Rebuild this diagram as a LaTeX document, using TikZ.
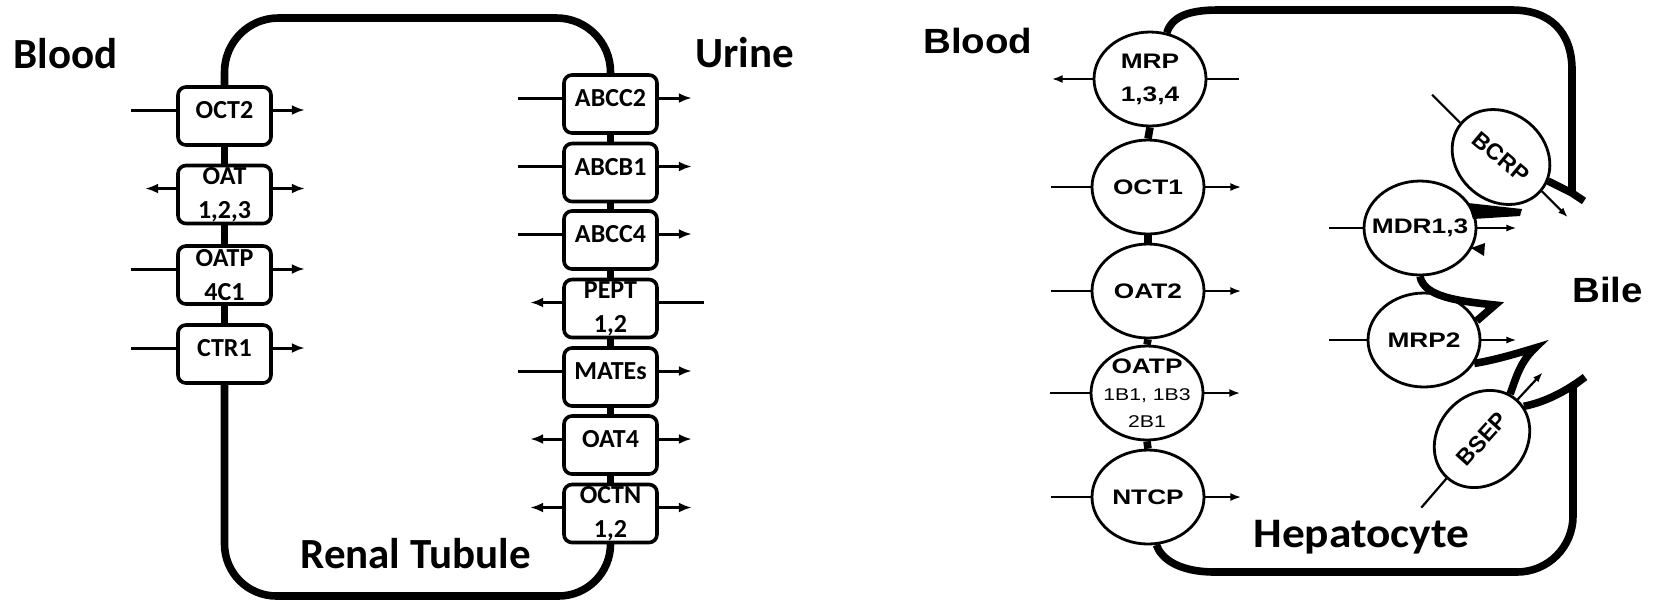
\documentclass[tikz,border=0pt]{standalone}
\usepackage{fontspec}
\setmainfont{Carlito}
\newfontfamily\widecal[FakeStretch=1.08]{Carlito}
\newfontfamily\bigsans[FakeStretch=1.1]{Liberation Sans}
\newfontfamily\widesans[FakeStretch=1.25]{Liberation Sans}
\newfontfamily\plainsans{Liberation Sans}
\usetikzlibrary{arrows.meta,shapes.geometric}
\newcommand{\subline}[1]{{\mdseries\fontsize{8.5}{10}\selectfont #1}}

\begin{document}
\begin{tikzpicture}[x=0.5pt,y=-0.5pt,>={Latex[length=6.5pt,width=5pt]},
	wall/.style={line width=3.8pt},
	tbox/.style={draw,fill=white,line width=1.8pt,rounded corners=4pt,minimum width=46.5pt,minimum height=29pt,inner sep=0pt,align=center,font=\bfseries\fontsize{13}{17}\selectfont},
	oneline/.style={text depth=6pt},
	flux/.style={line width=1.5pt},
	carrier/.style={ellipse,draw,line width=1.4pt,minimum width=56pt,minimum height=47pt,inner xsep=-6pt,inner ysep=-2pt,align=center,font=\widesans\bfseries\fontsize{10.5}{16.5}\selectfont},
	tilted/.style={carrier,minimum width=52pt,minimum height=44pt,font=\plainsans\bfseries\fontsize{11.5}{14}\selectfont},
	hflux/.style={line width=1.3pt,>={Latex[length=5.5pt,width=4pt]}},
	cflux/.style={line width=1.1pt,>={Latex[length=5pt,width=3.6pt]}},
	bigtext/.style={anchor=base west,inner sep=0pt}]
	\useasboundingbox (0,0) rectangle (1658,602);
	%Tubulo renale
	\node[tbox,oneline] (oct2) at (224.5,116) {OCT2};
	\node[tbox] (oat) at (224.5,194.5) {OAT\\1,2,3};
	\node[tbox] (oatp) at (224.5,275) {OATP\\4C1};
	\node[tbox,oneline] (ctr1) at (224.5,354) {CTR1};
	\node[tbox,oneline] (abcc2) at (610.5,104) {ABCC2};
	\node[tbox,oneline] (abcb1) at (610.5,172.5) {ABCB1};
	\node[tbox,oneline] (abcc4) at (610.5,240) {ABCC4};
	\node[tbox] (pept) at (610.5,308.5) {PEPT\\1,2};
	\node[tbox,oneline] (mates) at (610.5,377) {MATEs};
	\node[tbox,oneline] (oat4) at (610.5,445) {OAT4};
	\node[tbox] (octn) at (610.5,513.5) {OCTN\\1,2};
	%Membrana
	\draw[wall,rounded corners=27pt] (oct2.north) -- (224.5,18) -- (610.5,18) -- (abcc2.north);
	\foreach \a/\b in {oct2/oat,oat/oatp,oatp/ctr1,abcc2/abcb1,abcb1/abcc4,abcc4/pept,pept/mates,mates/oat4,oat4/octn}
	{\draw[wall] (\a.south) -- (\b.north);}
	\draw[wall,rounded corners=26pt] (ctr1.south) -- (224.5,596) -- (610.5,596) -- (octn.south);
	%Flussi
	\draw[flux] ([yshift=3pt]oct2.west) -- ++(-45,0);
	\draw[flux,->] ([yshift=3pt]oct2.east) -- ++(32,0);
	\draw[flux,->] ([yshift=3pt]oat.west) -- ++(-31,0);
	\draw[flux,->] ([yshift=3pt]oat.east) -- ++(32,0);
	\draw[flux] ([yshift=3pt]oatp.west) -- ++(-45,0);
	\draw[flux,->] ([yshift=3pt]oatp.east) -- ++(32,0);
	\draw[flux] ([yshift=3pt]ctr1.west) -- ++(-45,0);
	\draw[flux,->] ([yshift=3pt]ctr1.east) -- ++(32,0);
	\draw[flux] ([yshift=3pt]abcc2.west) -- ++(-44,0);
	\draw[flux,->] ([yshift=3pt]abcc2.east) -- ++(33,0);
	\draw[flux] ([yshift=3pt]abcb1.west) -- ++(-44,0);
	\draw[flux,->] ([yshift=3pt]abcb1.east) -- ++(33,0);
	\draw[flux] ([yshift=3pt]abcc4.west) -- ++(-44,0);
	\draw[flux,->] ([yshift=3pt]abcc4.east) -- ++(33,0);
	\draw[flux,->] ([yshift=3pt]pept.west) -- ++(-32,0);
	\draw[flux] ([yshift=3pt]pept.east) -- ++(45,0);
	\draw[flux] ([yshift=3pt]mates.west) -- ++(-44,0);
	\draw[flux,->] ([yshift=3pt]mates.east) -- ++(33,0);
	\draw[flux,->] ([yshift=3pt]oat4.west) -- ++(-32,0);
	\draw[flux,->] ([yshift=3pt]oat4.east) -- ++(33,0);
	\draw[flux,->] ([yshift=3pt]octn.west) -- ++(-32,0);
	\draw[flux,->] ([yshift=3pt]octn.east) -- ++(33,0);
	%Nomi
	\node[bigtext,font=\bfseries\fontsize{21.5}{24}\selectfont] (bloodk) at (13,68) {Blood};
	\node[bigtext,font=\bfseries\fontsize{21.5}{24}\selectfont] (urine) at (695,67) {Urine};
	\node[bigtext,font=\bfseries\fontsize{21.5}{24}\selectfont] (renal) at (300,568) {Renal Tubule};
	%Epatocita
	\node[carrier] (mrp) at (1150,79) {MRP\\1,3,4};
	\node[carrier] (oct1) at (1148,187) {OCT1};
	\node[carrier] (oat2) at (1148,291) {OAT2};
	\node[carrier] (oatp1) at (1147,393) {OATP\\[-3pt]\subline{1B1, 1B3}\\[-3pt]\subline{2B1}};
	\node[carrier] (ntcp) at (1148,497) {NTCP};
	\node[carrier] (mdr) at (1420,228) {MDR1,3};
	\node[carrier] (mrp2) at (1424,340) {MRP2};
	\node[tilted,rotate=-40] (bcrp) at (1501,157) {BCRP};
	\node[tilted,rotate=48] (bsep) at (1482,439) {BSEP};
	%Membrana
	\foreach \a/\b in {mrp/oct1,oct1/oat2,oat2/oatp1,oatp1/ntcp}
	{\draw[wall] (\a.south) -- (\b.north);}
	\draw[wall] (mrp.70) .. controls (1172,16) and (1190,10) .. (1218,10) -- (1512,10) .. controls (1550,10) and (1572,32) .. (1572,70) -- (1572,192);
	\draw[wall,line join=miter] (1548,181) -- (1572,193) -- (1584,201);
	\fill (1468,203) -- (1522,209) -- (1520,216) -- (1473,219) -- cycle;
	\fill (1471,248) -- (1485,243) -- (1484,256) -- cycle;
	\draw[wall] (mdr.south) .. controls (1424,297) and (1458,301) .. (1495,305) -- (mrp2.20);
	\draw[wall] (mrp2.-25) .. controls (1495,360) and (1515,354) .. (1535,348) .. controls (1520,362) and (1516,378) .. (bsep.10);
	\draw[wall] (bsep.-10) .. controls (1545,402) and (1565,392) .. (1585,377) -- (1573,386);
	\draw[wall,rounded corners=28pt] (1573,386) -- (1573,572) -- (1215,572);
	\draw[wall] (1215,572) .. controls (1175,572) and (1160,556) .. (ntcp.-80);
	%Flussi
	\draw[hflux,->] (mrp.west) -- ++(-41,0);
	\draw[hflux] (mrp.east) -- ++(32,0);
	\foreach \n in {oct1,oat2,oatp1,ntcp}
	{\draw[hflux] (\n.west) -- ++(-40,0);
	 \draw[hflux,->] (\n.east) -- ++(36,0);}
	\draw[cflux] (mdr.west) -- ++(-34,0);
	\draw[cflux,->] (mdr.east) -- ++(39,0);
	\draw[cflux] (mrp2.west) -- ++(-38,0);
	\draw[cflux,->] (mrp2.east) -- ++(35,0);
	\draw[cflux] (bcrp.west) -- ++(-28,-28);
	\draw[cflux,->] (bcrp.east) -- ++(26,26);
	\draw[cflux] (bsep.west) -- ++(-25,29);
	\draw[cflux,->] (bsep.east) -- ++(25,-27);
	%Nomi
	\node[bigtext,font=\bigsans\bfseries\fontsize{17.5}{20}\selectfont] (bloodh) at (923,53) {Blood};
	\node[bigtext,font=\bigsans\bfseries\fontsize{17.5}{20}\selectfont] (bile) at (1572,302) {Bile};
	\node[bigtext,font=\widecal\bfseries\fontsize{21}{24}\selectfont] (hepato) at (1253,547) {Hepatocyte};
\end{tikzpicture}
\end{document}
